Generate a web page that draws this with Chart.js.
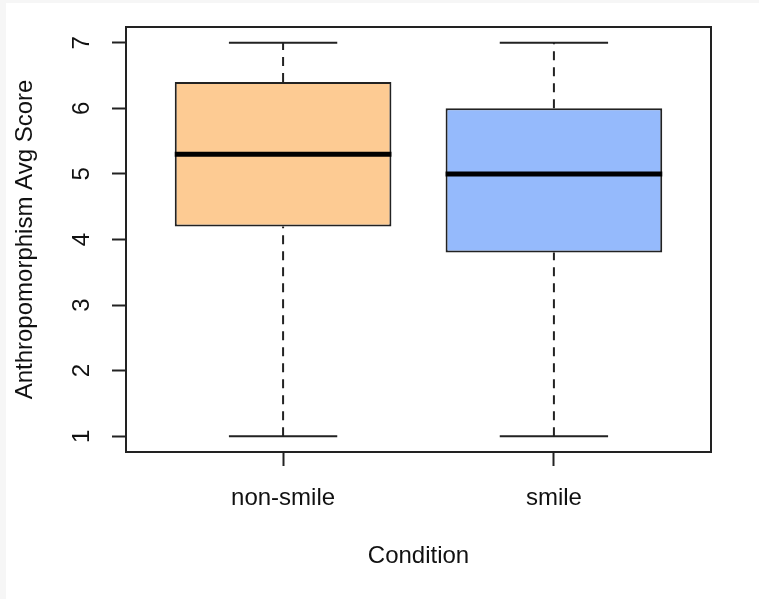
<!DOCTYPE html>
<html>
<head>
<meta charset="utf-8">
<script src="https://cdn.jsdelivr.net/npm/chart.js@4"></script>
<style>
  html, body { margin: 0; padding: 0; background: #f6f6f6; }
  #wrap { position: absolute; left: 6px; top: 3px; width: 753px; height: 596px; background: #fff; }
</style>
</head>
<body>
<div id="wrap"><canvas id="boxChart"></canvas></div>
<script>
// box plot summary per condition
const categories = ['non-smile', 'smile'];
const mins = [1, 1];
const q1s = [4.2, 3.8];
const medians = [5.3, 5.0];
const q3s = [6.4, 6.0];
const maxs = [7, 7];
const yTicks = [1, 2, 3, 4, 5, 6, 7];
const boxColors = ['#FDCB93', '#95BAFC'];

const lineColor = '#222';
const boxHalf = 0.4;   // half box width in category units
const capHalf = 0.2;   // half whisker cap width

// build line segments, separated by gaps
function segments(fn) {
    const pts = [];
    categories.forEach((c, i) => {
        fn(i + 1, i).forEach(p => pts.push(p));
        pts.push({ x: i + 1, y: null });
    });
    return pts;
}

const whiskerData = segments((x, i) => [
    { x: x, y: q3s[i] }, { x: x, y: maxs[i] }, { x: x, y: null },
    { x: x, y: mins[i] }, { x: x, y: q1s[i] }
]);
const capData = segments((x, i) => [
    { x: x - capHalf, y: maxs[i] }, { x: x + capHalf, y: maxs[i] }, { x: x, y: null },
    { x: x - capHalf, y: mins[i] }, { x: x + capHalf, y: mins[i] }
]);
const medianData = segments((x, i) => [
    { x: x - boxHalf, y: medians[i] }, { x: x + boxHalf, y: medians[i] }
]);

const fontFamily = '"Liberation Sans", Arial, Helvetica, sans-serif';

// plot frame like R's box()
const framePlugin = {
    id: 'frame',
    afterDatasetsDraw(chart) {
        const a = chart.chartArea;
        const ctx = chart.ctx;
        ctx.save();
        ctx.strokeStyle = lineColor;
        ctx.lineWidth = 2;
        ctx.strokeRect(a.left, a.top, a.right - a.left, a.bottom - a.top);
        ctx.restore();
    }
};

const canvas = document.getElementById('boxChart');
new Chart(canvas, {
    data: {
        datasets: [
            {
                type: 'bar',
                data: categories.map((c, i) => ({ x: i + 1, y: [q1s[i], q3s[i]] })),
                backgroundColor: boxColors,
                borderColor: lineColor,
                borderWidth: 2,
                borderSkipped: false,
                barPercentage: boxHalf * 2,
                categoryPercentage: 1,
                order: 2
            },
            {
                type: 'line',
                data: whiskerData,
                borderColor: lineColor,
                borderWidth: 2,
                borderDash: [9, 7],
                pointRadius: 0,
                spanGaps: false,
                order: 3
            },
            {
                type: 'line',
                data: capData,
                borderColor: lineColor,
                borderWidth: 2,
                pointRadius: 0,
                spanGaps: false,
                order: 3
            },
            {
                type: 'line',
                data: medianData,
                borderColor: '#000',
                borderWidth: 5,
                borderCapStyle: 'butt',
                pointRadius: 0,
                spanGaps: false,
                order: 1
            }
        ]
    },
    options: {
        responsive: true,
        maintainAspectRatio: false,
        animation: false,
        layout: { padding: { top: 24, right: 48, left: 0, bottom: 0 } },
        plugins: {
            legend: { display: false },
            tooltip: { enabled: false }
        },
        scales: {
            x: {
                type: 'linear',
                min: 0.42,
                max: 2.58,
                offset: false,
                afterBuildTicks: scale => { scale.ticks = categories.map((c, i) => ({ value: i + 1 })); },
                afterFit: scale => {
                    scale.height = 147;
                    scale.paddingLeft = 0;
                    scale.paddingRight = 0;
                },
                border: { display: false },
                grid: {
                    offset: false,
                    drawOnChartArea: false,
                    drawTicks: true,
                    tickLength: 14,
                    tickColor: lineColor,
                    tickWidth: 2
                },
                ticks: {
                    callback: v => categories[v - 1],
                    padding: 18,
                    color: '#111',
                    font: { family: fontFamily, size: 24, lineHeight: 1.2 },
                    maxRotation: 0
                },
                title: {
                    display: true,
                    text: 'Condition',
                    color: '#111',
                    font: { family: fontFamily, size: 24, lineHeight: 1.2 },
                    padding: { top: 0, bottom: 28 }
                }
            },
            y: {
                type: 'linear',
                min: 0.76,
                max: 7.24,
                afterBuildTicks: scale => { scale.ticks = yTicks.map(v => ({ value: v })); },
                afterFit: scale => {
                    scale.width = 120;
                    scale.paddingTop = 0;
                    scale.paddingBottom = 0;
                },
                border: { display: false },
                grid: {
                    drawOnChartArea: false,
                    drawTicks: true,
                    tickLength: 14,
                    tickColor: lineColor,
                    tickWidth: 2
                },
                ticks: {
                    minRotation: 90,
                    maxRotation: 90,
                    crossAlign: 'center',
                    padding: 23,
                    color: '#111',
                    font: { family: fontFamily, size: 24, lineHeight: 1.2 }
                },
                title: {
                    display: true,
                    text: 'Anthropomorphism Avg Score',
                    color: '#111',
                    font: { family: fontFamily, size: 24, lineHeight: 1.2 },
                    padding: { top: 5, bottom: 0 }
                }
            }
        }
    },
    plugins: [framePlugin]
});
</script>
</body>
</html>
